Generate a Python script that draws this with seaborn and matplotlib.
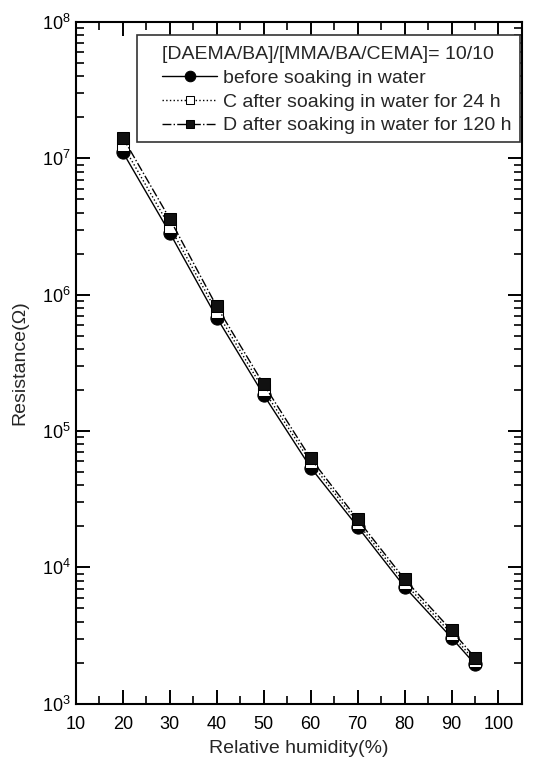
import seaborn as sns
import matplotlib
matplotlib.use("Agg")
import matplotlib.pyplot as plt
from matplotlib.patches import Rectangle
from matplotlib.ticker import MultipleLocator, LogLocator, NullFormatter
import numpy as np

sns.set_style("ticks")
plt.rcParams['font.family'] = ['Liberation Sans', 'DejaVu Sans']
plt.rcParams['mathtext.fontset'] = 'custom'
plt.rcParams['mathtext.rm'] = 'Liberation Sans'

humidity = [20, 30, 40, 50, 60, 70, 80, 90, 95]
before = [1.11e7, 2.84e6, 6.8e5, 1.84e5, 5.4e4, 1.99e4, 7.2e3, 3.05e3, 1.95e3]
after_24h = [1.25e7, 3.15e6, 7.5e5, 2.0e5, 5.9e4, 2.12e4, 7.7e3, 3.25e3, 2.05e3]
after_120h = [1.42e7, 3.6e6, 8.2e5, 2.2e5, 6.3e4, 2.25e4, 8.2e3, 3.45e3, 2.18e3]

legend_title = "[DAEMA/BA]/[MMA/BA/CEMA]= 10/10"
labels = ["before soaking in water",
          "C after soaking in water for 24 h",
          "D after soaking in water for 120 h"]

fig = plt.figure(figsize=(5.42, 7.6), dpi=100)
ax = fig.add_axes([0.14, 0.074, 0.823, 0.897])

sns.lineplot(x=humidity, y=before, ax=ax, color='black', linestyle='-', lw=1,
             marker='o', markersize=9.5, markerfacecolor='black', markeredgecolor='black',
             label=labels[0])
sns.lineplot(x=humidity, y=after_24h, ax=ax, color='black', linestyle=':', lw=1,
             marker='s', markersize=8, markerfacecolor='white', markeredgecolor='black',
             label=labels[1])
sns.lineplot(x=humidity, y=after_120h, ax=ax, color='black', linestyle='-.', lw=1,
             marker='s', markersize=8, markerfacecolor='#111111', markeredgecolor='black',
             label=labels[2])

ax.set_yscale('log')
ax.set_xlim(10, 105)
ax.set_ylim(1e3, 1e8)
ax.xaxis.set_minor_locator(MultipleLocator(5))
ax.set_xticks(range(10, 101, 10))
ax.yaxis.set_major_locator(LogLocator(base=10, numticks=10))
ax.yaxis.set_minor_locator(LogLocator(base=10, subs=np.arange(2, 10), numticks=20))
ax.yaxis.set_minor_formatter(NullFormatter())

ax.tick_params(which='both', direction='in', top=True, right=True, labelsize=13, colors='black')
ax.tick_params(which='major', length=10, width=1.4)
ax.tick_params(which='minor', length=6, width=1.2)
ax.tick_params(axis='x', pad=9)
for s in ax.spines.values():
    s.set_linewidth(1.5)
    s.set_color('black')

ax.set_xlabel('Relative humidity(%)', fontsize=14, labelpad=5)
ax.set_ylabel('Resistance(\u03a9)', fontsize=14, labelpad=10)

# legend box (frame drawn separately, the reference has uneven padding)
ax.add_patch(Rectangle((0.137, 0.824), 0.859, 0.157, transform=ax.transAxes,
                       facecolor='white', edgecolor='#333333', lw=1.2, zorder=4))
leg = ax.legend(title=legend_title, loc='upper left', bbox_to_anchor=(0.193, 0.965),
                fontsize=14, title_fontsize=14, frameon=False, markerscale=0.8,
                handlelength=2.85, handletextpad=0.3, borderpad=0, labelspacing=0.32,
                borderaxespad=0)
leg._legend_box.align = 'left'
leg.set_zorder(5)

plt.savefig('out.png', dpi=100)
